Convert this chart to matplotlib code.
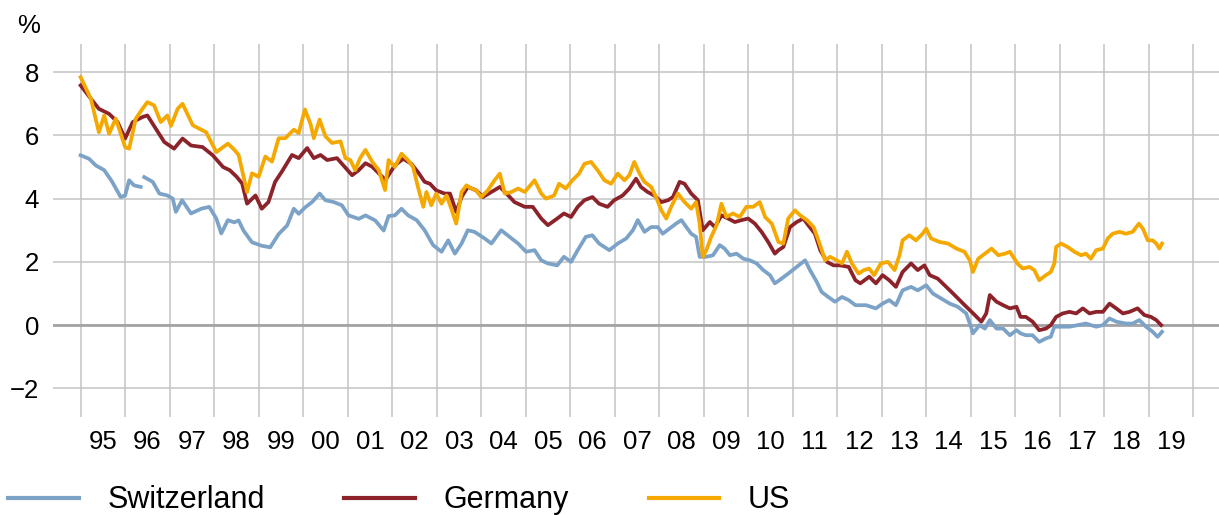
import matplotlib
matplotlib.use('Agg')
import matplotlib.pyplot as plt
import numpy as np

plt.rcParams['font.family'] = ['Liberation Sans', 'DejaVu Sans']

# 10-year government bond yields, % (decimal years)
sw_t = [1995.0, 1995.19, 1995.34, 1995.53, 1995.71, 1995.9, 1996.0, 1996.09, 1996.2, 1996.35,
        1996.39, 1996.43, 1996.62, 1996.77, 1996.95, 1997.07, 1997.14, 1997.28, 1997.48, 1997.71,
        1997.89, 1998.05, 1998.16, 1998.31, 1998.45, 1998.55, 1998.66, 1998.85, 1999.07, 1999.26,
        1999.45, 1999.64, 1999.79, 1999.9, 2000.05, 2000.2, 2000.37, 2000.5, 2000.69, 2000.87,
        2001.02, 2001.25, 2001.4, 2001.62, 2001.81, 2001.92, 2002.06, 2002.21, 2002.36, 2002.55,
        2002.73, 2002.92, 2003.11, 2003.26, 2003.41, 2003.56, 2003.7, 2003.85, 2004.08, 2004.23,
        2004.45, 2004.64, 2004.83, 2005.01, 2005.2, 2005.35, 2005.5, 2005.71, 2005.86, 2006.02,
        2006.17, 2006.35, 2006.5, 2006.65, 2006.88, 2007.07, 2007.26, 2007.41, 2007.52, 2007.67,
        2007.82, 2007.97, 2008.08, 2008.23, 2008.38, 2008.5, 2008.61, 2008.72, 2008.83, 2008.91,
        2009.06, 2009.21, 2009.36, 2009.47, 2009.59, 2009.74, 2009.89, 2010.04, 2010.19, 2010.34,
        2010.49, 2010.6, 2010.75, 2010.9, 2011.09, 2011.28, 2011.39, 2011.54, 2011.65, 2011.8,
        2011.95, 2012.11, 2012.26, 2012.41, 2012.65, 2012.87, 2013.02, 2013.17, 2013.32, 2013.47,
        2013.66, 2013.81, 2014.0, 2014.15, 2014.34, 2014.53, 2014.71, 2014.9, 2015.02, 2015.05,
        2015.2, 2015.32, 2015.43, 2015.58, 2015.73, 2015.88, 2016.03, 2016.12, 2016.24, 2016.39,
        2016.54, 2016.69, 2016.8, 2016.88, 2017.03, 2017.22, 2017.4, 2017.59, 2017.82, 2017.97,
        2018.12, 2018.27, 2018.49, 2018.64, 2018.79, 2018.94, 2019.09, 2019.2, 2019.3]
sw_v = [5.37, 5.26, 5.05, 4.9, 4.53, 4.05, 4.1, 4.58, 4.42, 4.37,
        np.nan, 4.68, 4.53, 4.16, 4.1, 4.0, 3.58, 3.95, 3.53, 3.68,
        3.74, 3.37, 2.9, 3.32, 3.25, 3.31, 2.99, 2.62, 2.51, 2.46,
        2.88, 3.15, 3.68, 3.52, 3.73, 3.89, 4.16, 3.95, 3.89, 3.79,
        3.47, 3.36, 3.47, 3.31, 2.99, 3.45, 3.47, 3.68, 3.47, 3.32,
        3.0, 2.53, 2.32, 2.68, 2.26, 2.58, 3.0, 2.95, 2.74, 2.58,
        3.0, 2.79, 2.58, 2.32, 2.37, 2.05, 1.95, 1.89, 2.16, 2.0,
        2.37, 2.79, 2.84, 2.58, 2.37, 2.58, 2.74, 3.0, 3.32, 2.95,
        3.1, 3.1, 2.89, 3.05, 3.21, 3.32, 3.1, 2.89, 2.79, 2.16,
        2.16, 2.21, 2.53, 2.42, 2.21, 2.26, 2.1, 2.05, 1.95, 1.74,
        1.58, 1.32, 1.47, 1.63, 1.84, 2.05, 1.74, 1.37, 1.05, 0.89,
        0.74, 0.89, 0.79, 0.63, 0.63, 0.53, 0.68, 0.79, 0.63, 1.1,
        1.21, 1.1, 1.26, 1.0, 0.84, 0.68, 0.58, 0.37, -0.11, -0.26,
        0.0, -0.11, 0.16, -0.11, -0.11, -0.32, -0.16, -0.26, -0.32, -0.32,
        -0.53, -0.42, -0.37, -0.05, -0.05, -0.05, 0.0, 0.05, -0.05, 0.0,
        0.21, 0.11, 0.05, 0.05, 0.16, -0.05, -0.21, -0.37, -0.21]

de_t = [1995.0, 1995.23, 1995.41, 1995.64, 1995.83, 1996.0, 1996.17, 1996.39, 1996.5, 1996.69,
        1996.88, 1997.1, 1997.29, 1997.48, 1997.74, 1997.97, 1998.2, 1998.35, 1998.5, 1998.63,
        1998.74, 1998.93, 1999.07, 1999.22, 1999.37, 1999.52, 1999.75, 1999.9, 2000.09, 2000.24,
        2000.39, 2000.54, 2000.76, 2001.0, 2001.1, 2001.25, 2001.4, 2001.55, 2001.7, 2001.85,
        2001.99, 2002.06, 2002.25, 2002.43, 2002.58, 2002.73, 2002.85, 2002.99, 2003.18, 2003.3,
        2003.44, 2003.56, 2003.7, 2003.89, 2004.04, 2004.23, 2004.42, 2004.57, 2004.75, 2004.98,
        2005.16, 2005.35, 2005.5, 2005.71, 2005.86, 2006.02, 2006.17, 2006.32, 2006.5, 2006.65,
        2006.84, 2006.99, 2007.18, 2007.33, 2007.48, 2007.59, 2007.74, 2007.89, 2008.05, 2008.2,
        2008.31, 2008.46, 2008.57, 2008.72, 2008.87, 2008.98, 2009.14, 2009.25, 2009.4, 2009.55,
        2009.7, 2009.85, 2010.0, 2010.15, 2010.3, 2010.45, 2010.6, 2010.68, 2010.79, 2010.94,
        2011.09, 2011.24, 2011.35, 2011.5, 2011.62, 2011.77, 2011.92, 2012.07, 2012.26, 2012.41,
        2012.52, 2012.72, 2012.87, 2013.02, 2013.17, 2013.32, 2013.47, 2013.66, 2013.81, 2013.96,
        2014.08, 2014.26, 2014.45, 2014.64, 2014.83, 2015.02, 2015.24, 2015.35, 2015.43, 2015.58,
        2015.73, 2015.88, 2016.03, 2016.12, 2016.24, 2016.39, 2016.54, 2016.69, 2016.8, 2016.92,
        2017.07, 2017.22, 2017.37, 2017.52, 2017.67, 2017.82, 2017.97, 2018.12, 2018.27, 2018.42,
        2018.57, 2018.75, 2018.9, 2019.05, 2019.17, 2019.28]
de_v = [7.58, 7.16, 6.84, 6.68, 6.42, 5.9, 6.42, 6.58, 6.63, 6.21,
        5.79, 5.58, 5.9, 5.68, 5.63, 5.37, 5.0, 4.9, 4.7, 4.48,
        3.84, 4.1, 3.68, 3.89, 4.53, 4.85, 5.38, 5.28, 5.6, 5.28,
        5.38, 5.22, 5.28, 4.9, 4.74, 4.9, 5.12, 5.01, 4.8, 4.59,
        4.9, 5.05, 5.26, 5.1, 4.84, 4.53, 4.47, 4.26, 4.16, 4.16,
        3.58, 4.05, 4.37, 4.26, 4.05, 4.21, 4.37, 4.16, 3.89, 3.74,
        3.74, 3.37, 3.16, 3.37, 3.53, 3.42, 3.74, 3.95, 4.05, 3.84,
        3.74, 3.95, 4.1, 4.32, 4.63, 4.37, 4.21, 4.1, 3.89, 3.95,
        4.05, 4.53, 4.47, 4.16, 3.95, 3.0, 3.26, 3.1, 3.47, 3.37,
        3.26, 3.32, 3.37, 3.21, 2.95, 2.63, 2.26, 2.37, 2.47, 3.1,
        3.26, 3.37, 3.16, 2.89, 2.37, 2.0, 1.89, 1.89, 1.84, 1.42,
        1.32, 1.53, 1.32, 1.58, 1.42, 1.21, 1.68, 1.95, 1.74, 1.89,
        1.58, 1.47, 1.21, 0.95, 0.68, 0.42, 0.11, 0.37, 0.95, 0.74,
        0.63, 0.53, 0.58, 0.26, 0.26, 0.11, -0.16, -0.11, 0.0, 0.26,
        0.37, 0.42, 0.37, 0.53, 0.37, 0.42, 0.42, 0.68, 0.53, 0.37,
        0.42, 0.53, 0.32, 0.26, 0.16, 0.0]

us_t = [1995.0, 1995.23, 1995.41, 1995.53, 1995.64, 1995.79, 1996.0, 1996.09, 1996.24, 1996.39,
        1996.5, 1996.65, 1996.8, 1996.95, 1997.03, 1997.18, 1997.29, 1997.52, 1997.82, 1998.05,
        1998.31, 1998.45, 1998.55, 1998.74, 1998.85, 1999.0, 1999.15, 1999.3, 1999.45, 1999.6,
        1999.79, 1999.9, 2000.04, 2000.17, 2000.24, 2000.37, 2000.5, 2000.65, 2000.84, 2000.95,
        2001.06, 2001.17, 2001.28, 2001.4, 2001.55, 2001.7, 2001.84, 2001.92, 2002.06, 2002.21,
        2002.36, 2002.47, 2002.58, 2002.7, 2002.77, 2002.88, 2002.99, 2003.11, 2003.22, 2003.33,
        2003.44, 2003.56, 2003.67, 2003.78, 2003.89, 2004.0, 2004.15, 2004.3, 2004.42, 2004.53,
        2004.68, 2004.83, 2004.98, 2005.2, 2005.35, 2005.46, 2005.64, 2005.75, 2005.9, 2006.05,
        2006.2, 2006.32, 2006.47, 2006.62, 2006.77, 2006.92, 2007.07, 2007.22, 2007.33, 2007.44,
        2007.56, 2007.67, 2007.82, 2007.93, 2008.05, 2008.16, 2008.27, 2008.42, 2008.57, 2008.72,
        2008.83, 2008.91, 2008.98, 2009.06, 2009.17, 2009.29, 2009.4, 2009.51, 2009.66, 2009.81,
        2009.96, 2010.11, 2010.26, 2010.38, 2010.53, 2010.68, 2010.79, 2010.9, 2011.05, 2011.17,
        2011.32, 2011.47, 2011.58, 2011.73, 2011.84, 2011.99, 2012.11, 2012.22, 2012.33, 2012.48,
        2012.6, 2012.72, 2012.83, 2012.98, 2013.14, 2013.29, 2013.4, 2013.47, 2013.62, 2013.77,
        2013.92, 2014.0, 2014.11, 2014.3, 2014.49, 2014.68, 2014.86, 2014.98, 2015.05, 2015.17,
        2015.32, 2015.47, 2015.62, 2015.77, 2015.88, 2016.05, 2016.17, 2016.32, 2016.43, 2016.54,
        2016.69, 2016.8, 2016.88, 2016.92, 2017.03, 2017.18, 2017.33, 2017.48, 2017.59, 2017.7,
        2017.82, 2017.97, 2018.08, 2018.19, 2018.34, 2018.49, 2018.64, 2018.78, 2018.87, 2018.98,
        2019.09, 2019.17, 2019.24, 2019.3]
us_v = [7.84, 7.16, 6.1, 6.63, 6.05, 6.53, 5.63, 5.58, 6.53, 6.84,
        7.05, 6.95, 6.42, 6.63, 6.3, 6.84, 7.0, 6.32, 6.1, 5.47,
        5.74, 5.55, 5.38, 4.21, 4.8, 4.69, 5.33, 5.17, 5.91, 5.91,
        6.18, 6.07, 6.82, 6.34, 5.91, 6.5, 5.97, 5.76, 5.81, 5.28,
        5.22, 4.9, 5.28, 5.54, 5.17, 4.9, 4.27, 5.22, 5.0, 5.42,
        5.21, 5.0, 4.37, 3.74, 4.21, 3.79, 4.16, 3.84, 4.1, 3.68,
        3.21, 4.21, 4.42, 4.32, 4.26, 4.05, 4.26, 4.58, 4.79, 4.16,
        4.21, 4.32, 4.21, 4.58, 4.16, 4.0, 4.1, 4.47, 4.32, 4.58,
        4.79, 5.1, 5.16, 4.89, 4.58, 4.47, 4.79, 4.58, 4.74, 5.16,
        4.79, 4.53, 4.37, 4.05, 3.63, 3.37, 3.74, 4.16, 3.89, 3.68,
        3.89, 3.21, 2.16, 2.37, 2.79, 3.16, 3.84, 3.42, 3.53, 3.42,
        3.74, 3.74, 3.89, 3.42, 3.21, 2.63, 2.58, 3.37, 3.63, 3.47,
        3.32, 3.1, 2.68, 2.05, 2.16, 2.05, 1.95, 2.32, 1.95, 1.63,
        1.74, 1.79, 1.58, 1.95, 2.0, 1.74, 2.21, 2.68, 2.84, 2.68,
        2.89, 3.05, 2.74, 2.63, 2.58, 2.42, 2.32, 2.05, 1.68, 2.1,
        2.26, 2.42, 2.21, 2.26, 2.32, 1.95, 1.79, 1.84, 1.74, 1.42,
        1.58, 1.68, 1.95, 2.47, 2.58, 2.47, 2.32, 2.21, 2.26, 2.1,
        2.37, 2.42, 2.74, 2.89, 2.95, 2.89, 2.95, 3.21, 3.05, 2.68,
        2.68, 2.58, 2.42, 2.58]

years = list(range(1995, 2020))
year_labels = ['%02d' % (y % 100) for y in years]

fig = plt.figure(figsize=(12.19, 5.15), dpi=100)
ax = fig.add_axes([0.0435, 0.19, 0.9565, 0.7246])

ax.plot(sw_t, sw_v, color='#7CA3C7', lw=2.7, label='Switzerland', zorder=3)
ax.plot(de_t, de_v, color='#8C232A', lw=2.7, label='Germany', zorder=4)
ax.plot(us_t, us_v, color='#F5A800', lw=2.7, label='US', zorder=5)

ax.set_xlim(1994.38, 2020.58)
ax.set_ylim(-2.91, 8.89)

ax.set_yticks([-2, 0, 2, 4, 6, 8])
ax.set_xticks(years + [2020])
ax.set_xticklabels([])
ax.set_xticks([y + 0.5 for y in years], minor=True)
ax.set_xticklabels(year_labels, minor=True)
ax.tick_params(axis='x', which='both', length=0, labelsize=18.5, pad=9)
ax.tick_params(axis='y', length=0, labelsize=18.5, pad=10)

ax.grid(True, color='#C4C4C4', lw=1.1)
ax.axhline(0, color='#A3A3A3', lw=2.0, zorder=2)
for s in ax.spines.values():
    s.set_visible(False)

fig.text(0.014, 0.935, '%', fontsize=18.5)

leg = fig.legend(loc='lower left', bbox_to_anchor=(-0.012, -0.045), ncol=3, frameon=False,
                 fontsize=22, handlelength=2.3, handletextpad=0.95, columnspacing=2.6,
                 borderpad=0.25)
for h in leg.legend_handles:
    h.set_linewidth(3.0)

fig.savefig('out.png', dpi=100)
